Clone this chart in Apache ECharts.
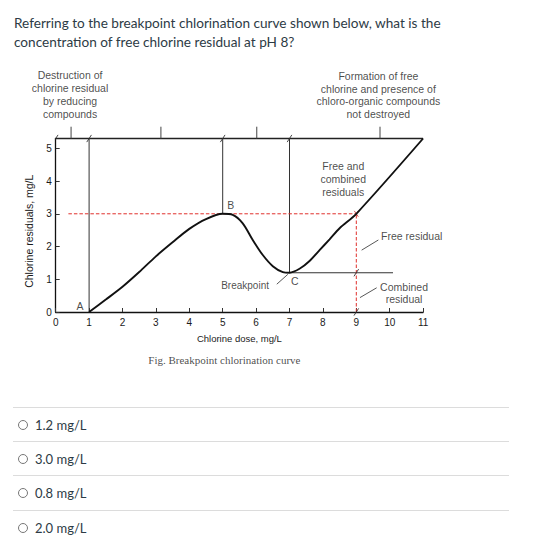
<!DOCTYPE html>
<html>
<head>
<meta charset="utf-8">
<script src="https://cdn.jsdelivr.net/npm/echarts@6/dist/echarts.min.js"></script>
<style>
  html, body { margin:0; padding:0; background:#fff; width:557px; height:553px; overflow:hidden; }
  #chart { position:absolute; left:0; top:0; width:557px; height:390px; }
  .q { position:absolute; left:14px; top:14px; width:455px; font-family:Lato, "Open Sans", sans-serif; font-size:13.6px; line-height:19.4px; color:#2d3b45; }
  .opt { position:absolute; left:13px; width:496px; height:34px; border-top:1px solid #dcdcdc; display:flex; align-items:center; font-family:Lato, sans-serif; font-size:13px; color:#2d3b45; }
  .radio { width:10px; height:10px; border:1px solid #777; border-radius:50%; margin-left:5px; margin-right:7px; box-sizing:border-box; }
</style>
</head>
<body>
<div id="chart"></div>
<div class="q">Referring to the breakpoint chlorination curve shown below, what is the concentration of free chlorine residual at pH 8?</div>
<div id="opts"></div>
<script>
// ---- data ----
const curveDose     = [1, 1.5, 2, 2.5, 3, 3.5, 4, 4.5, 5, 5.3, 5.6, 5.9, 6.2, 6.5, 6.8, 7, 7.3, 7.6, 7.9, 8.2, 8.5, 9, 11];
const curveResidual = [0, 0.38, 0.77, 1.22, 1.70, 2.13, 2.54, 2.84, 3.0, 2.97, 2.71, 2.2, 1.74, 1.40, 1.22, 1.2, 1.32, 1.56, 1.89, 2.22, 2.56, 3.0, 5.3];
const xTickLabels = [0,1,2,3,4,5,6,7,8,9,10,11];
const yTickLabels = [0,1,2,3,4,5];
const topLevel = 5.3;                 // top frame line
const zoneDoses   = [1, 5, 7];        // vertical zone lines (A, B, C)
const zoneBottoms = [0, 3, 1.2];
const readoutDose = 9;
const readoutResidual = 3.0;
const combinedResidual = 1.2;
const combinedLineEnd = 10.1;
const bracketDoses = [0.46, 3.15, 6.02, 9.71];
const answerOptions = ['1.2 mg/L', '3.0 mg/L', '0.8 mg/L', '2.0 mg/L'];

// ---- answer options (HTML) ----
const optsEl = document.getElementById('opts');
answerOptions.forEach((t, i) => {
  const d = document.createElement('div');
  d.className = 'opt';
  d.style.top = (407 + i * 34.2) + 'px';
  d.innerHTML = '<span class="radio"></span><span>' + t + '</span>';
  optsEl.appendChild(d);
});

// ---- chart ----
const chart = echarts.init(document.getElementById('chart'), null, { renderer: 'svg' });
const FONT = '"Liberation Sans", Arial, sans-serif';
const INK = '#1a1a1a';

function seg(points, color, width, type) {
  return {
    type: 'line', data: points, showSymbol: false, symbol: 'none', silent: true, clip: false,
    lineStyle: { color: color || '#333', width: width || 1, type: type || 'solid' },
    animation: false, z: 2
  };
}
const series = [];
// main curve
series.push({
  type: 'line', name: 'Chlorine residual',
  data: curveDose.map((x, i) => [x, curveResidual[i]]),
  smooth: 0.3, showSymbol: false, symbol: 'none', clip: false, animation: false,
  lineStyle: { color: '#111', width: 1.9 }, z: 5
});
// zone verticals
zoneDoses.forEach((x, i) => series.push(seg([[x, zoneBottoms[i]], [x, topLevel]], '#333', 1)));
// top frame
series.push(seg([[0, topLevel], [11, topLevel]], '#222', 1.3));
// combined residual level
series.push(seg([[7, combinedResidual], [combinedLineEnd, combinedResidual]], '#333', 1.1));
// red readout lines
series.push(seg([[0.38, readoutResidual], [readoutDose, readoutResidual]], '#e0302c', 1, [3.5, 2]));
series.push(seg([[readoutDose, 0], [readoutDose, readoutResidual]], '#e0302c', 1, [3.5, 2]));
// bracket ticks above frame
bracketDoses.forEach(x => series.push(seg([[x, topLevel], [x, 5.66]], '#444', 1)));
// leader lines
series.push(seg([[6.62, 0.85], [6.95, 1.15]], '#444', 0.9));
series.push(seg([[9.16, 1.89], [9.66, 2.2]], '#444', 0.9));
series.push(seg([[9.11, 0.44], [9.61, 0.74]], '#444', 0.9));
// break slashes
[[0, topLevel], [1, topLevel], [5, topLevel], [7, topLevel], [9, combinedResidual], [9, 0]].forEach(p => {
  series.push(seg([[p[0] - 0.07, p[1] - 0.11], [p[0] + 0.07, p[1] + 0.11]], '#333', 0.9));
});
// small x at readout point
series.push(seg([[readoutDose - 0.06, readoutResidual - 0.09], [readoutDose + 0.06, readoutResidual + 0.09]], '#c03030', 0.8));
series.push(seg([[readoutDose - 0.06, readoutResidual + 0.09], [readoutDose + 0.06, readoutResidual - 0.09]], '#c03030', 0.8));

// annotation texts at data coordinates
const notes = [
  { t: 'A', p: [0.73, 0.18] },
  { t: 'B', p: [5.24, 3.27] },
  { t: 'C', p: [7.16, 0.96] },
  { t: 'Breakpoint', p: [5.67, 0.80], fs: 10 },
  { t: 'Free and\ncombined\nresiduals', p: [8.61, 4.06], lh: 12.7 },
  { t: 'Free residual', p: [10.66, 2.33] },
  { t: 'Combined\nresidual', p: [10.43, 0.58], lh: 12.5 },
  { t: 'Destruction of\nchlorine residual\nby reducing\ncompounds', p: [0.43, 6.64], lh: 13 },
  { t: 'Formation of free\nchlorine and presence of\nchloro-organic compounds\nnot destroyed', p: [9.66, 6.63], lh: 12.9 },
  { t: 'Fig. Breakpoint chlorination curve', p: [5.05, -1.47], fs: 11, ff: '"Liberation Serif", "Times New Roman", serif' }
];
series.push({
  type: 'scatter', symbolSize: 0, clip: false, silent: true, animation: false, z: 10,
  data: notes.map(n => ({
    value: n.p, name: n.t,
    label: {
      show: true, position: 'inside', formatter: '{b}', align: 'center', verticalAlign: 'middle',
      fontSize: n.fs || 10.5, lineHeight: n.lh || 13, color: INK, fontFamily: n.ff || FONT
    }
  }))
});

chart.setOption({
  animation: false,
  grid: { left: 55.7, top: 138.5, width: 367.4, height: 173.5, containLabel: false },
  xAxis: {
    type: 'value', min: 0, max: 11, interval: 1,
    name: 'Chlorine dose, mg/L', nameLocation: 'middle', nameGap: 21,
    nameTextStyle: { fontSize: 9.5, color: INK, fontFamily: FONT },
    axisLine: { show: true, onZero: false, lineStyle: { color: '#111', width: 1.3 } },
    axisTick: { show: true, inside: true, length: 4, lineStyle: { color: '#333' } },
    axisLabel: { fontSize: 10, color: INK, fontFamily: FONT, margin: 5,
                 formatter: v => xTickLabels.includes(v) ? String(v) : '' },
    splitLine: { show: false }
  },
  yAxis: {
    type: 'value', min: 0, max: topLevel, interval: 1,
    name: 'Chlorine residuals, mg/L', nameLocation: 'middle', nameGap: 21, nameRotate: 90,
    nameTextStyle: { fontSize: 10.5, color: INK, fontFamily: FONT, padding: [0, 12, 0, 0] },
    axisLine: { show: true, onZero: false, lineStyle: { color: '#111', width: 1.3 } },
    axisTick: { show: true, inside: true, length: 4, lineStyle: { color: '#333' } },
    axisLabel: { fontSize: 10, color: INK, fontFamily: FONT, margin: 4,
                 formatter: v => yTickLabels.includes(v) ? String(v) : '' },
    splitLine: { show: false }
  },
  series: series
});
</script>
</body>
</html>
